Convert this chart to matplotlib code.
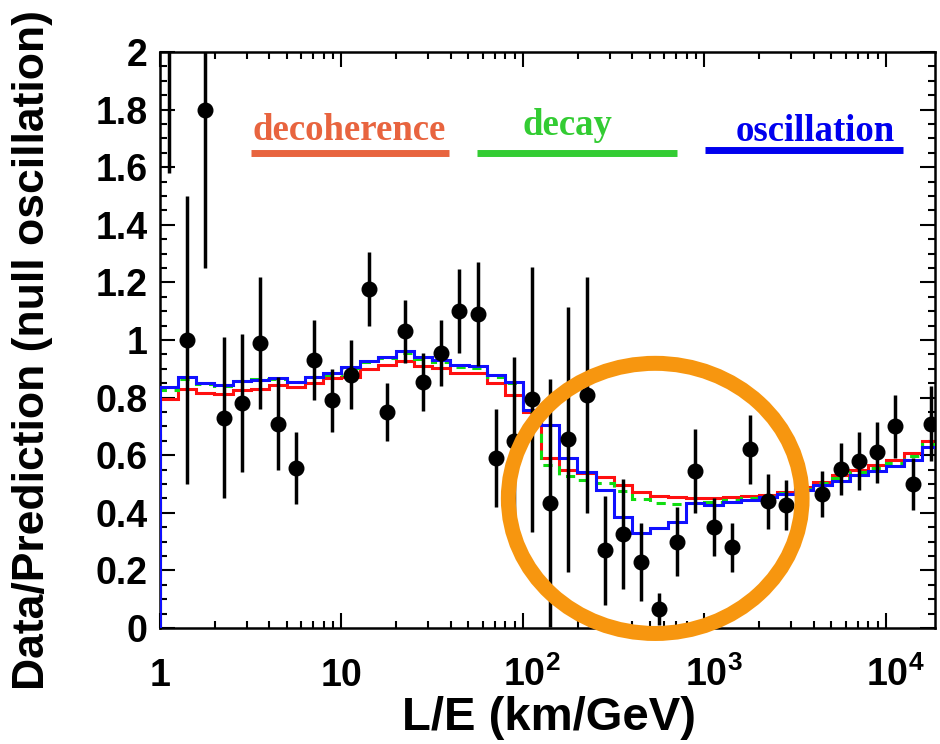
import numpy as np
import matplotlib
matplotlib.use("Agg")
import matplotlib.pyplot as plt
from matplotlib.patches import Ellipse
from matplotlib.lines import Line2D
from matplotlib.transforms import ScaledTranslation
from matplotlib.ticker import FixedLocator, LogLocator, MultipleLocator, FuncFormatter, NullFormatter

# L/E histogram binning: 0.1 decade bins from 1 to 10^4.3 km/GeV
log_edges = np.linspace(0.0, 4.3, 44)

# data / prediction per bin (nan = no point)
data_ratio = [2.30, 1.00, 1.80, 0.73, 0.78, 0.99, 0.71, 0.555, 0.93, 0.79, 0.88,
              1.177, 0.75, 1.03, 0.855, 0.955, 1.10, 1.09, 0.59, 0.65, 0.795,
              0.434, 0.655, 0.81, 0.27, 0.326, 0.23, 0.066, 0.30, 0.545, 0.35,
              0.28, 0.62, 0.44, 0.427, np.nan, 0.465, 0.552, 0.58, 0.61, 0.70,
              0.50, 0.71]
data_err = [0.72, 0.50, 0.55, 0.28, 0.24, 0.23, 0.16, 0.125, 0.14, 0.11, 0.12,
            0.13, 0.10, 0.11, 0.10, 0.115, 0.145, 0.18, 0.17, 0.29, 0.46,
            0.43, 0.46, 0.41, 0.19, 0.19, 0.135, 0.055, 0.12, 0.145, 0.10,
            0.085, 0.12, 0.095, 0.087, np.nan, 0.08, 0.09, 0.10, 0.107, 0.11,
            0.09, 0.13]

# model expectations per bin
decoherence = [0.794, 0.829, 0.815, 0.812, 0.826, 0.829, 0.844, 0.838, 0.852, 0.867,
               0.873, 0.898, 0.913, 0.928, 0.910, 0.902, 0.884, 0.885, 0.852, 0.809,
               0.751, 0.589, 0.549, 0.537, 0.526, 0.497, 0.473, 0.458, 0.454, 0.450,
               0.450, 0.456, 0.458, 0.462, 0.473, 0.488, 0.508, 0.531, 0.549, 0.566,
               0.583, 0.609, 0.651]
decay = [0.825, 0.865, 0.848, 0.842, 0.856, 0.866, 0.866, 0.853, 0.872, 0.880,
         0.902, 0.922, 0.936, 0.955, 0.935, 0.924, 0.906, 0.904, 0.872, 0.850,
         0.752, 0.566, 0.528, 0.514, 0.505, 0.477, 0.447, 0.433, 0.430, 0.435,
         0.436, 0.446, 0.450, 0.458, 0.468, 0.483, 0.502, 0.520, 0.540, 0.556,
         0.572, 0.596, 0.640]
oscillation = [0.838, 0.873, 0.852, 0.844, 0.859, 0.861, 0.868, 0.855, 0.873, 0.885,
               0.907, 0.927, 0.942, 0.963, 0.942, 0.930, 0.913, 0.910, 0.878, 0.855,
               0.757, 0.705, 0.589, 0.543, 0.479, 0.387, 0.331, 0.346, 0.369, 0.434,
               0.428, 0.439, 0.444, 0.456, 0.465, 0.479, 0.497, 0.512, 0.531, 0.546,
               0.562, 0.583, 0.630]

xtick_values = [1, 10, 100, 1000, 10000]
xtick_labels = ["1", "10", r"$\mathregular{10^{2}}$",
                r"$\mathregular{10^{3}}$", r"$\mathregular{10^{4}}$"]

plt.rcParams["font.family"] = ["Liberation Sans", "DejaVu Sans"]
plt.rcParams["font.weight"] = "bold"
plt.rcParams["mathtext.fontset"] = "custom"
plt.rcParams["mathtext.rm"] = "Liberation Sans:bold"
plt.rcParams["mathtext.bf"] = "Liberation Sans:bold"

W, H = 940, 744
fig = plt.figure(figsize=(W / 100, H / 100), dpi=100)
ax = fig.add_axes([160 / W, (H - 628) / H, 775 / W, 576 / H])

edges = 10 ** log_edges
centers = 10 ** (0.5 * (log_edges[:-1] + log_edges[1:]))

ax.stairs(decoherence, edges, baseline=0, color="#ff1010", lw=2.2, zorder=2)
ax.stairs(decay, edges, baseline=0, color="#10dd10", lw=2.2, ls=(0, (3, 2.5)), zorder=3)
ax.stairs(oscillation, edges, baseline=0, color="#1010ff", lw=2.2, zorder=4)

ax.errorbar(centers, data_ratio, yerr=data_err, fmt="o", color="black",
            ms=10.5, elinewidth=2.5, capsize=0, zorder=5)

ax.set_xscale("log")
ax.set_xlim(1, 10 ** 4.27)
ax.set_ylim(0, 2)

ax.xaxis.set_major_locator(FixedLocator(xtick_values))
ax.set_xticklabels(xtick_labels)
ax.xaxis.set_minor_locator(LogLocator(base=10, subs=np.arange(2, 10)))
ax.xaxis.set_minor_formatter(NullFormatter())
ax.yaxis.set_major_locator(MultipleLocator(0.2))
ax.yaxis.set_minor_locator(MultipleLocator(0.05))
ax.yaxis.set_major_formatter(FuncFormatter(lambda v, p: "%g" % round(v, 2)))

ax.tick_params(which="both", direction="in", top=True, right=True, width=1.5)
ax.tick_params(which="major", length=10.8)
ax.tick_params(which="minor", length=5)
ax.tick_params(axis="y", labelsize=27, pad=9)
ax.tick_params(axis="x", labelsize=27, pad=42)
for s in ax.spines.values():
    s.set_linewidth(1.8)

# baseline-align x labels; nudge the power-of-ten ones so "10" sits on the tick
for tick, lab in zip(ax.xaxis.get_major_ticks(), xtick_labels):
    tick.label1.set_verticalalignment("baseline")
    if "^" in lab:
        tick.label1.set_transform(tick.label1.get_transform()
                                  + ScaledTranslation(0.09, 0, fig.dpi_scale_trans))

fig.text(33 / W, 1 - 350 / H, "Data/Prediction (null oscillation)", rotation=90,
         ha="center", va="center", fontsize=32, fontweight="bold")
fig.text(549 / W, 1 - 718 / H, "L/E (km/GeV)", ha="center", va="center",
         fontsize=34, fontweight="bold")

# model labels with coloured bars
labels = [("decoherence", "#e8643f", 349, 140, 251, 449, 152.5),
          ("decay", "#33cc33", 567, 135, 477, 677, 152.5),
          ("oscillation", "#0000ee", 815, 141, 705, 903, 150)]
for text, col, tx, ty, x0, x1, by in labels:
    fig.text(tx / W, 1 - ty / H, text, ha="center", va="baseline", color=col,
             family=["Liberation Serif", "DejaVu Serif"], fontweight="bold", fontsize=26.5)
    fig.add_artist(Line2D([x0 / W, x1 / W], [1 - by / H] * 2, color=col, lw=5,
                          solid_capstyle="butt"))

# highlight the oscillation dip
ax.add_patch(Ellipse((0.639, 0.225), 0.379, 0.469, transform=ax.transAxes, fill=False,
                     ec="#f7960f", lw=10.8, clip_on=False, zorder=10))

fig.savefig("out.png", dpi=100)
